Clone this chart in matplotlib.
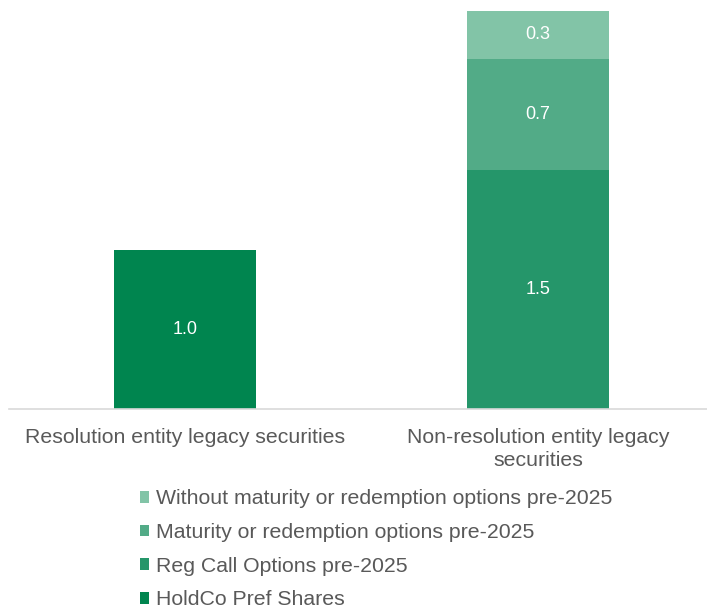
import matplotlib.pyplot as plt
import numpy as np

plt.rcParams['font.family'] = ['Liberation Sans', 'DejaVu Sans']

categories = ['Resolution entity legacy securities',
              'Non-resolution entity legacy\nsecurities']
series = ['HoldCo Pref Shares', 'Reg Call Options pre-2025',
          'Maturity or redemption options pre-2025',
          'Without maturity or redemption options pre-2025']
holdco = [1.0, 0.0]
reg_call = [0.0, 1.5]
maturity = [0.0, 0.7]
without = [0.0, 0.3]
colors = ['#00854F', '#25966A', '#52AB87', '#82C4A7']

fig = plt.figure(figsize=(7.07, 6.05), dpi=100)
ax = fig.add_axes([8.5 / 707, 196 / 605, 706 / 707, 398 / 605])

x = np.arange(len(categories))
bottom = np.zeros(len(categories))
handles = []
for name, vals, col in zip(series, [holdco, reg_call, maturity, without], colors):
    vals = np.array(vals)
    bars = ax.bar(x, vals, 0.402, bottom=bottom, color=col, label=name)
    handles.append(bars)
    for xi, v, b in zip(x, vals, bottom):
        if v > 0:
            ax.text(xi, b + v / 2, f'{v:.1f}', ha='center', va='center',
                    color='white', fontsize=13)
    bottom += vals

ax.set_xlim(-0.5, 1.5)
ax.set_ylim(0, 2.5)
ax.set_xticks(x)
ax.set_xticklabels(categories, fontsize=15.3, color='#595959', linespacing=1.28)
ax.tick_params(axis='x', length=0, pad=13.5)
ax.set_yticks([])
for side in ['top', 'right', 'left']:
    ax.spines[side].set_visible(False)
ax.spines['bottom'].set_color('#D9D9D9')
ax.spines['bottom'].set_linewidth(1.2)

fig.legend(handles[::-1], series[::-1], loc='upper left',
           bbox_to_anchor=(131 / 707, 1 - 481 / 605), frameon=False,
           fontsize=15.3, labelcolor='#595959', handlelength=0.47,
           handleheight=0.47, handletextpad=0.32, labelspacing=0.69,
           borderaxespad=0)

fig.savefig('out.png', dpi=100)
